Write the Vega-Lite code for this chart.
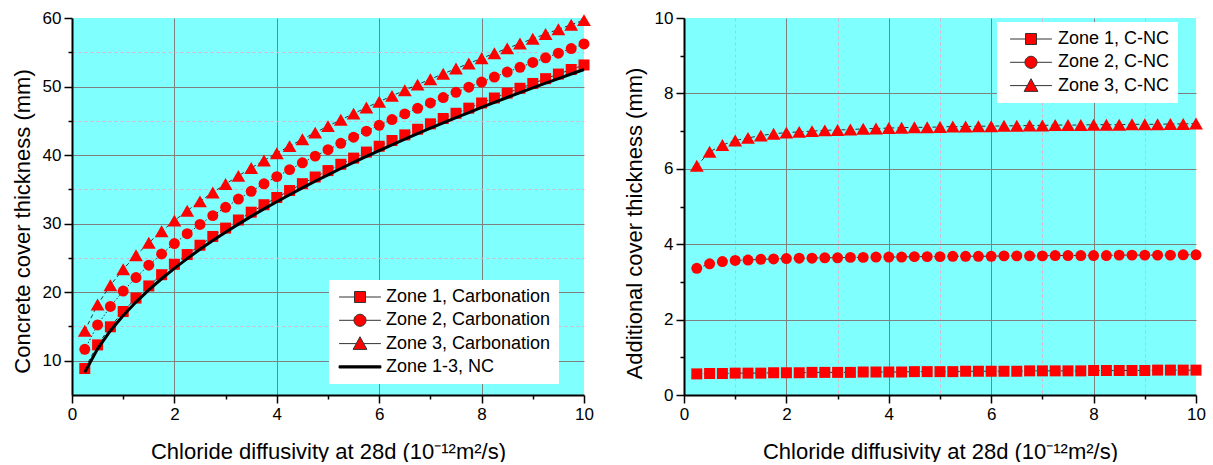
{
  "$schema": "https://vega.github.io/schema/vega-lite/v6.json",
  "background": "white",
  "padding": {"left": 11, "top": 9, "right": 5, "bottom": 0},
  "spacing": 29,
  "config": {
    "font": "Liberation Sans",
    "view": {"fill": "#80FFFF", "stroke": null},
    "axis": {
      "domainColor": "black", "domainWidth": 2,
      "tickColor": "black", "tickWidth": 1.5,
      "labelFontSize": 17, "labelColor": "black", "labelFont": "Liberation Sans",
      "labelPadding": 3, "labelFlush": false, "labelOverlap": false, "labelBound": false,
      "titleFontSize": 22, "titleFontWeight": "normal", "titleColor": "black", "titleFont": "Liberation Sans",
      "gridWidth": 1
    },
    "legend": {
      "title": null, "orient": "none", "fillColor": "white", "padding": 8, "rowPadding": 5.3,
      "labelFontSize": 18, "labelFont": "Liberation Sans", "labelColor": "black", "labelLimit": 400,
      "symbolSize": 121, "symbolStrokeWidth": 1
    }
  },
  "datasets": {
    "cover": [
      {"D":0.25,"z1":8.86,"z2":11.66,"z3":14.38,"nc":8.30},
      {"D":0.5,"z1":12.31,"z2":15.22,"z3":18.19,"nc":11.74},
      {"D":0.75,"z1":14.95,"z2":17.92,"z3":21.01,"nc":14.38},
      {"D":1.0,"z1":17.18,"z2":20.17,"z3":23.35,"nc":16.60},
      {"D":1.25,"z1":19.14,"z2":22.14,"z3":25.38,"nc":18.56},
      {"D":1.5,"z1":20.91,"z2":23.93,"z3":27.21,"nc":20.33},
      {"D":1.75,"z1":22.55,"z2":25.57,"z3":28.89,"nc":21.96},
      {"D":2.0,"z1":24.07,"z2":27.10,"z3":30.44,"nc":23.48},
      {"D":2.25,"z1":25.49,"z2":28.53,"z3":31.88,"nc":24.90},
      {"D":2.5,"z1":26.85,"z2":29.88,"z3":33.25,"nc":26.25},
      {"D":2.75,"z1":28.13,"z2":31.17,"z3":34.55,"nc":27.53},
      {"D":3.0,"z1":29.35,"z2":32.39,"z3":35.78,"nc":28.75},
      {"D":3.25,"z1":30.53,"z2":33.58,"z3":36.97,"nc":29.93},
      {"D":3.5,"z1":31.67,"z2":34.71,"z3":38.12,"nc":31.06},
      {"D":3.75,"z1":32.76,"z2":35.81,"z3":39.22,"nc":32.15},
      {"D":4.0,"z1":33.81,"z2":36.86,"z3":40.28,"nc":33.20},
      {"D":4.25,"z1":34.83,"z2":37.88,"z3":41.31,"nc":34.22},
      {"D":4.5,"z1":35.83,"z2":38.88,"z3":42.31,"nc":35.21},
      {"D":4.75,"z1":36.80,"z2":39.85,"z3":43.28,"nc":36.18},
      {"D":5.0,"z1":37.74,"z2":40.79,"z3":44.23,"nc":37.12},
      {"D":5.25,"z1":38.66,"z2":41.72,"z3":45.16,"nc":38.04},
      {"D":5.5,"z1":39.56,"z2":42.61,"z3":46.05,"nc":38.93},
      {"D":5.75,"z1":40.44,"z2":43.49,"z3":46.94,"nc":39.81},
      {"D":6.0,"z1":41.29,"z2":44.34,"z3":47.79,"nc":40.66},
      {"D":6.25,"z1":42.13,"z2":45.19,"z3":48.64,"nc":41.50},
      {"D":6.5,"z1":42.95,"z2":46.01,"z3":49.46,"nc":42.32},
      {"D":6.75,"z1":43.77,"z2":46.82,"z3":50.28,"nc":43.13},
      {"D":7.0,"z1":44.56,"z2":47.61,"z3":51.07,"nc":43.92},
      {"D":7.25,"z1":45.34,"z2":48.40,"z3":51.86,"nc":44.70},
      {"D":7.5,"z1":46.10,"z2":49.16,"z3":52.62,"nc":45.46},
      {"D":7.75,"z1":46.85,"z2":49.91,"z3":53.37,"nc":46.21},
      {"D":8.0,"z1":47.60,"z2":50.65,"z3":54.12,"nc":46.95},
      {"D":8.25,"z1":48.33,"z2":51.38,"z3":54.85,"nc":47.68},
      {"D":8.5,"z1":49.05,"z2":52.11,"z3":55.57,"nc":48.40},
      {"D":8.75,"z1":49.75,"z2":52.81,"z3":56.28,"nc":49.10},
      {"D":9.0,"z1":50.45,"z2":53.51,"z3":56.98,"nc":49.80},
      {"D":9.25,"z1":51.15,"z2":54.20,"z3":57.67,"nc":50.49},
      {"D":9.5,"z1":51.82,"z2":54.87,"z3":58.35,"nc":51.16},
      {"D":9.75,"z1":52.49,"z2":55.55,"z3":59.02,"nc":51.83},
      {"D":10.0,"z1":53.15,"z2":56.21,"z3":59.69,"nc":52.49}
    ],
    "extra": [
      {"D":0.25,"a1":0.56,"a2":3.36,"a3":6.08},
      {"D":0.5,"a1":0.57,"a2":3.48,"a3":6.45},
      {"D":0.75,"a1":0.57,"a2":3.54,"a3":6.63},
      {"D":1.0,"a1":0.58,"a2":3.57,"a3":6.75},
      {"D":1.25,"a1":0.58,"a2":3.58,"a3":6.82},
      {"D":1.5,"a1":0.58,"a2":3.60,"a3":6.88},
      {"D":1.75,"a1":0.59,"a2":3.61,"a3":6.93},
      {"D":2.0,"a1":0.59,"a2":3.62,"a3":6.96},
      {"D":2.25,"a1":0.59,"a2":3.63,"a3":6.98},
      {"D":2.5,"a1":0.60,"a2":3.63,"a3":7.00},
      {"D":2.75,"a1":0.60,"a2":3.64,"a3":7.02},
      {"D":3.0,"a1":0.60,"a2":3.64,"a3":7.03},
      {"D":3.25,"a1":0.60,"a2":3.65,"a3":7.04},
      {"D":3.5,"a1":0.61,"a2":3.65,"a3":7.06},
      {"D":3.75,"a1":0.61,"a2":3.66,"a3":7.07},
      {"D":4.0,"a1":0.61,"a2":3.66,"a3":7.08},
      {"D":4.25,"a1":0.61,"a2":3.66,"a3":7.09},
      {"D":4.5,"a1":0.62,"a2":3.67,"a3":7.10},
      {"D":4.75,"a1":0.62,"a2":3.67,"a3":7.10},
      {"D":5.0,"a1":0.62,"a2":3.67,"a3":7.11},
      {"D":5.25,"a1":0.62,"a2":3.68,"a3":7.12},
      {"D":5.5,"a1":0.63,"a2":3.68,"a3":7.12},
      {"D":5.75,"a1":0.63,"a2":3.68,"a3":7.13},
      {"D":6.0,"a1":0.63,"a2":3.68,"a3":7.13},
      {"D":6.25,"a1":0.63,"a2":3.69,"a3":7.14},
      {"D":6.5,"a1":0.63,"a2":3.69,"a3":7.14},
      {"D":6.75,"a1":0.64,"a2":3.69,"a3":7.15},
      {"D":7.0,"a1":0.64,"a2":3.69,"a3":7.15},
      {"D":7.25,"a1":0.64,"a2":3.70,"a3":7.16},
      {"D":7.5,"a1":0.64,"a2":3.70,"a3":7.16},
      {"D":7.75,"a1":0.64,"a2":3.70,"a3":7.16},
      {"D":8.0,"a1":0.65,"a2":3.70,"a3":7.17},
      {"D":8.25,"a1":0.65,"a2":3.70,"a3":7.17},
      {"D":8.5,"a1":0.65,"a2":3.71,"a3":7.17},
      {"D":8.75,"a1":0.65,"a2":3.71,"a3":7.18},
      {"D":9.0,"a1":0.65,"a2":3.71,"a3":7.18},
      {"D":9.25,"a1":0.66,"a2":3.71,"a3":7.18},
      {"D":9.5,"a1":0.66,"a2":3.71,"a3":7.19},
      {"D":9.75,"a1":0.66,"a2":3.72,"a3":7.19},
      {"D":10.0,"a1":0.66,"a2":3.72,"a3":7.20}
    ]
  },
  "resolve": {
    "scale": {"x": "independent", "y": "independent", "fill": "independent", "stroke": "independent", "shape": "independent", "strokeDash": "independent"},
    "legend": {"fill": "independent", "stroke": "independent", "shape": "independent"}
  },
  "hconcat": [
    {
      "width": 512, "height": 377,
      "data": {"name": "cover"},
      "encoding": {
        "x": {
          "field": "D", "type": "quantitative",
          "scale": {"domain": [0, 10], "nice": false, "zero": false},
          "axis": {
            "title": "Chloride diffusivity at 28d (10⁻¹²m²/s)", "titlePadding": 19,
            "values": [0,1,2,3,4,5,6,7,8,9,10],
            "labelExpr": "datum.value % 2 === 0 ? datum.label : ''",
            "tickSize": {"condition": {"test": "datum.value % 2 === 0", "value": 8}, "value": 4},
            "grid": true,
            "gridColor": "#808080",
            "gridOpacity": {"condition": {"test": "datum.value % 2 === 0 && datum.value > 0 && datum.value < 10", "value": 1}, "value": 0}
          }
        },
        "y": {
          "field": "z1", "type": "quantitative",
          "scale": {"domain": [5, 60], "nice": false, "zero": false},
          "axis": {
            "title": "Concrete cover thickness (mm)", "titlePadding": 8, "titleY": 203,
            "values": [10,15,20,25,30,35,40,45,50,55,60],
            "labelExpr": "datum.value % 10 === 0 ? datum.label : ''",
            "tickSize": {"condition": {"test": "datum.value % 10 === 0", "value": 8}, "value": 4},
            "grid": true,
            "gridColor": {"condition": {"test": "datum.value % 10 === 0", "value": "#808080"}, "value": "#dcb4c4"},
            "gridDash": {"condition": {"test": "datum.value % 10 === 0", "value": []}, "value": [3, 3]},
            "gridOpacity": {"condition": {"test": "datum.value >= 60", "value": 0}, "value": 1}
          }
        }
      },
      "layer": [
        {
          "transform": [{"fold": ["z1", "z2", "z3"], "as": ["series", "v"]}],
          "mark": {"type": "line", "color": "black", "strokeWidth": 0.8},
          "encoding": {
            "y": {"field": "v", "type": "quantitative"},
            "detail": {"field": "series", "type": "nominal"},
            "strokeDash": {"field": "series", "type": "nominal", "scale": {"domain": ["z1", "z2", "z3"], "range": [[4, 3], [1.5, 2], [4, 3]]}, "legend": null}
          }
        },
        {
          "mark": {"type": "point", "shape": "square", "size": 121, "filled": true, "opacity": 1, "color": "#FF0000"},
          "encoding": {"y": {"field": "z1", "type": "quantitative"}}
        },
        {
          "mark": {"type": "point", "shape": "circle", "size": 120, "filled": true, "opacity": 1, "color": "#FF0000"},
          "encoding": {"y": {"field": "z2", "type": "quantitative"}}
        },
        {
          "mark": {"type": "point", "shape": "triangle-up", "size": 190, "filled": true, "opacity": 1, "color": "#FF0000"},
          "encoding": {"y": {"field": "z3", "type": "quantitative"}}
        },
        {
          "mark": {"type": "line", "color": "black", "strokeWidth": 3},
          "encoding": {"y": {"field": "nc", "type": "quantitative"}}
        },
        {
          "transform": [{"fold": ["z1", "z2", "z3"], "as": ["series", "v"]}, {"filter": "false"}],
          "mark": {"type": "point", "filled": true, "opacity": 1, "strokeWidth": 1},
          "encoding": {
            "y": {"field": "v", "type": "quantitative"},
            "fill": {
              "field": "series", "type": "nominal",
              "scale": {"domain": ["z1", "z2", "z3", "nc"], "range": ["#FF0000", "#FF0000", "#FF0000", "#000000"]},
              "legend": {"legendX": 257, "legendY": 262, "symbolOffset": 14, "labelOffset": 17,
                "labelExpr": "datum.value === 'z1' ? 'Zone 1, Carbonation' : datum.value === 'z2' ? 'Zone 2, Carbonation' : datum.value === 'z3' ? 'Zone 3, Carbonation' : 'Zone 1-3, NC'"}
            },
            "stroke": {
              "field": "series", "type": "nominal",
              "scale": {"domain": ["z1", "z2", "z3", "nc"], "range": ["#333333", "#333333", "#333333", "#000000"]},
              "legend": {"legendX": 257, "legendY": 262, "symbolOffset": 14, "labelOffset": 17,
                "labelExpr": "datum.value === 'z1' ? 'Zone 1, Carbonation' : datum.value === 'z2' ? 'Zone 2, Carbonation' : datum.value === 'z3' ? 'Zone 3, Carbonation' : 'Zone 1-3, NC'"}
            },
            "shape": {
              "field": "series", "type": "nominal",
              "scale": {"domain": ["z1", "z2", "z3", "nc"], "range": [
                "M-3.8,0H-1M1,0H3.8M-1,-1H1V1H-1Z",
                "M-3.8,0H-1.1M1.1,0H3.8M-1.1,0A1.1,1.1,0,1,0,1.1,0A1.1,1.1,0,1,0,-1.1,0Z",
                "M-3.8,0H-0.68M0.68,0H3.8M0,-1.25L1.25,1.05L-1.25,1.05Z",
                "M-3.8,-0.2H3.8V0.2H-3.8Z"
              ]},
              "legend": {"legendX": 257, "legendY": 262, "symbolOffset": 14, "labelOffset": 17,
                "labelExpr": "datum.value === 'z1' ? 'Zone 1, Carbonation' : datum.value === 'z2' ? 'Zone 2, Carbonation' : datum.value === 'z3' ? 'Zone 3, Carbonation' : 'Zone 1-3, NC'"}
            }
          }
        }
      ]
    },
    {
      "width": 512, "height": 377,
      "data": {"name": "extra"},
      "encoding": {
        "x": {
          "field": "D", "type": "quantitative",
          "scale": {"domain": [0, 10], "nice": false, "zero": false},
          "axis": {
            "title": "Chloride diffusivity at 28d (10⁻¹²m²/s)", "titlePadding": 19,
            "values": [0,1,2,3,4,5,6,7,8,9,10],
            "labelExpr": "datum.value % 2 === 0 ? datum.label : ''",
            "tickSize": {"condition": {"test": "datum.value % 2 === 0", "value": 8}, "value": 4},
            "grid": true,
            "gridColor": {"condition": {"test": "datum.value % 2 === 0", "value": "#808080"}, "value": "#dcb4c4"},
            "gridDash": {"condition": {"test": "datum.value % 2 === 0", "value": []}, "value": [3, 3]},
            "gridOpacity": {"condition": {"test": "datum.value > 0 && datum.value < 10", "value": 1}, "value": 0}
          }
        },
        "y": {
          "field": "a1", "type": "quantitative",
          "scale": {"domain": [0, 10], "nice": false, "zero": false},
          "axis": {
            "title": "Additional cover thickness (mm)", "titlePadding": 8, "titleY": 205,
            "values": [0,1,2,3,4,5,6,7,8,9,10],
            "labelExpr": "datum.value % 2 === 0 ? datum.label : ''",
            "tickSize": {"condition": {"test": "datum.value % 2 === 0", "value": 8}, "value": 4},
            "grid": true,
            "gridColor": "#808080",
            "gridOpacity": {"condition": {"test": "datum.value % 2 === 0 && datum.value > 0 && datum.value < 10", "value": 1}, "value": 0}
          }
        }
      },
      "layer": [
        {
          "transform": [{"fold": ["a1", "a2", "a3"], "as": ["series", "v"]}],
          "mark": {"type": "line", "color": "black", "strokeWidth": 0.8, "strokeDash": [4, 3]},
          "encoding": {
            "y": {"field": "v", "type": "quantitative"},
            "detail": {"field": "series", "type": "nominal"}
          }
        },
        {
          "mark": {"type": "point", "shape": "square", "size": 121, "filled": true, "opacity": 1, "color": "#FF0000"},
          "encoding": {"y": {"field": "a1", "type": "quantitative"}}
        },
        {
          "mark": {"type": "point", "shape": "circle", "size": 120, "filled": true, "opacity": 1, "color": "#FF0000"},
          "encoding": {"y": {"field": "a2", "type": "quantitative"}}
        },
        {
          "mark": {"type": "point", "shape": "triangle-up", "size": 190, "filled": true, "opacity": 1, "color": "#FF0000"},
          "encoding": {"y": {"field": "a3", "type": "quantitative"}}
        },
        {
          "transform": [{"fold": ["a1", "a2", "a3"], "as": ["series", "v"]}, {"filter": "false"}],
          "mark": {"type": "point", "filled": true, "opacity": 1, "strokeWidth": 1},
          "encoding": {
            "y": {"field": "v", "type": "quantitative"},
            "fill": {
              "field": "series", "type": "nominal",
              "scale": {"domain": ["a1", "a2", "a3"], "range": ["#FF0000", "#FF0000", "#FF0000"]},
              "legend": {"legendX": 313, "legendY": 4, "symbolOffset": 17, "labelOffset": 18,
                "labelExpr": "datum.value === 'a1' ? 'Zone 1, C-NC' : datum.value === 'a2' ? 'Zone 2, C-NC' : 'Zone 3, C-NC'"}
            },
            "stroke": {
              "field": "series", "type": "nominal",
              "scale": {"domain": ["a1", "a2", "a3"], "range": ["#333333", "#333333", "#333333"]},
              "legend": {"legendX": 313, "legendY": 4, "symbolOffset": 17, "labelOffset": 18,
                "labelExpr": "datum.value === 'a1' ? 'Zone 1, C-NC' : datum.value === 'a2' ? 'Zone 2, C-NC' : 'Zone 3, C-NC'"}
            },
            "shape": {
              "field": "series", "type": "nominal",
              "scale": {"domain": ["a1", "a2", "a3"], "range": [
                "M-3.8,0H-1M1,0H3.8M-1,-1H1V1H-1Z",
                "M-3.8,0H-1.1M1.1,0H3.8M-1.1,0A1.1,1.1,0,1,0,1.1,0A1.1,1.1,0,1,0,-1.1,0Z",
                "M-3.8,0H-0.68M0.68,0H3.8M0,-1.25L1.25,1.05L-1.25,1.05Z"
              ]},
              "legend": {"legendX": 313, "legendY": 4, "symbolOffset": 17, "labelOffset": 18,
                "labelExpr": "datum.value === 'a1' ? 'Zone 1, C-NC' : datum.value === 'a2' ? 'Zone 2, C-NC' : 'Zone 3, C-NC'"}
            }
          }
        }
      ]
    }
  ]
}
